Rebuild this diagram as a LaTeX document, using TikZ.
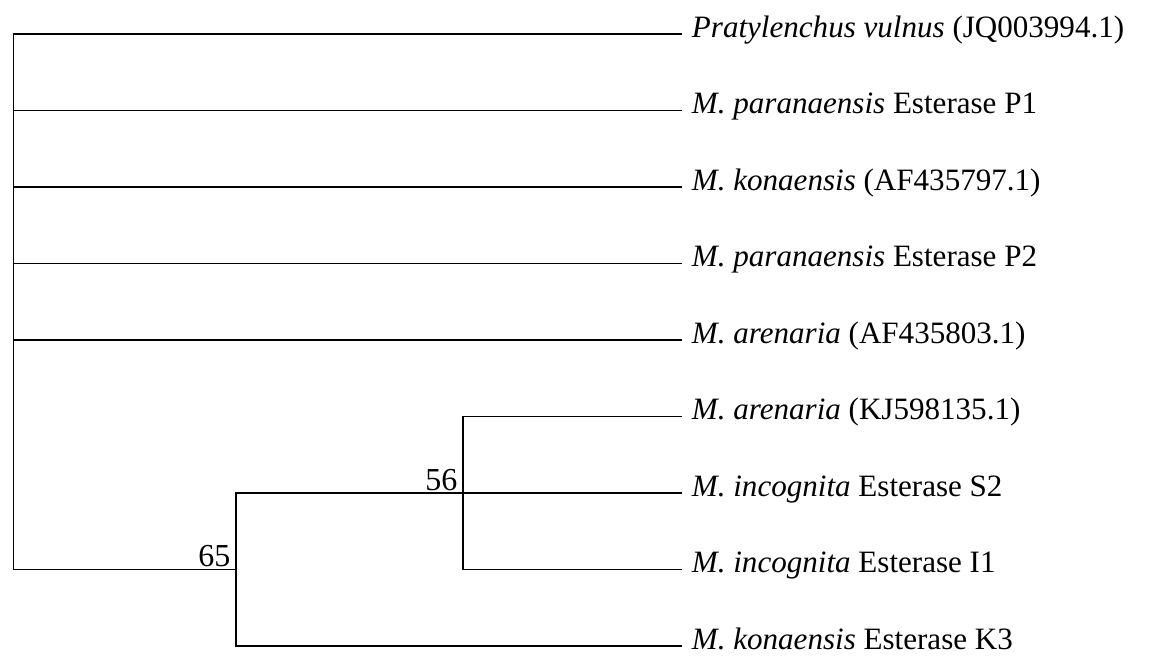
\documentclass[tikz,border=0pt]{standalone}
\usepackage{fontspec}
\setmainfont{Liberation Serif}
\usetikzlibrary{calc}
\tikzset{branch/.style={line width=1.3pt,draw=black,line cap=rect},
  taxon/.style={anchor=west,inner xsep=8pt,inner ysep=0pt,text height=0.68em,text depth=0.22em,font=\fontsize{23.3}{27}\selectfont},
  support/.style={anchor=base east,inner sep=0pt,font=\fontsize{24}{27}\selectfont}}

\begin{document}
\begin{tikzpicture}[x=0.75pt,y=-0.75pt]
\useasboundingbox (0,0) rectangle (1157,657);
% taxa
\foreach \i/\txt in {1/{\textit{Pratylenchus vulnus} (JQ003994.1)},
  2/{\textit{M. paranaensis} Esterase P1},
  3/{\textit{M. konaensis} (AF435797.1)},
  4/{\textit{M. paranaensis} Esterase P2},
  5/{\textit{M. arenaria} (AF435803.1)},
  6/{\textit{M. arenaria} (KJ598135.1)},
  7/{\textit{M. incognita} Esterase S2},
  8/{\textit{M. incognita} Esterase I1},
  9/{\textit{M. konaensis} Esterase K3}}{\node[taxon] (leaf\i) at (681,{34+76.5*(\i-1)}) {\txt};}
% internal nodes
\coordinate (n56) at (leaf7.west -| 462.7,0);
\coordinate (n65) at (leaf8.west -| 235.7,0);
\coordinate (root) at (n65 -| 13.5,0);
% branches
\draw[branch] (leaf1.west) -| (root) -- (n65);
\foreach \i in {2,...,5}{\draw[branch] (leaf\i.west) -- (leaf\i.west -| root);}
\draw[branch] (n56) -| (n65 |- leaf9.west) -- (leaf9.west);
\draw[branch] (n65 |- n56) -- (n65);
\draw[branch] (leaf6.west) -| (n56 |- leaf8.west) -- (leaf8.west);
\draw[branch] (n56) -- (leaf7.west);
% bootstrap values
\node[support] (bs56) at ([shift={(-5,-3)}]n56) {56};
\node[support] (bs65) at ([shift={(-5,-3)}]n65) {65};
\end{tikzpicture}
\end{document}
